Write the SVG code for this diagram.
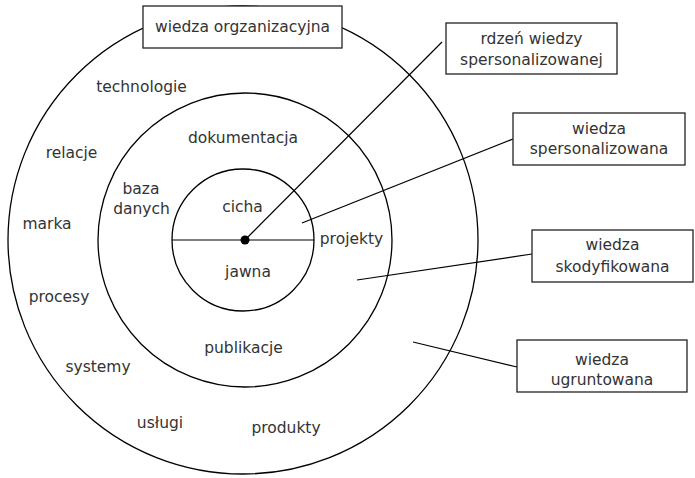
<svg xmlns="http://www.w3.org/2000/svg" width="695" height="478" viewBox="0 0 695 478">
  <style>
    .ring { fill: none; stroke: #000; stroke-width: 1.3; }
    .box { fill: #fff; stroke: #222; stroke-width: 1.3; }
    .lbl { font-family: "DejaVu Sans", Verdana, sans-serif; font-size: 15.5px; fill: #333; text-anchor: middle; }
    .link { stroke: #000; stroke-width: 1.2; fill: none; }
  </style>
  <rect width="695" height="478" fill="#fff"/>

  <!-- concentric knowledge rings -->
  <g id="ring-outer">
    <ellipse class="ring" cx="243" cy="240" rx="235" ry="234"/>
    <text class="lbl" x="141.5" y="92">technologie</text>
    <text class="lbl" x="71.5" y="158">relacje</text>
    <text class="lbl" x="47" y="229">marka</text>
    <text class="lbl" x="59" y="302">procesy</text>
    <text class="lbl" x="98" y="372">systemy</text>
    <text class="lbl" x="160" y="428">usługi</text>
    <text class="lbl" x="286" y="433">produkty</text>
  </g>
  <g id="ring-middle">
    <circle class="ring" cx="245" cy="240" r="147"/>
    <text class="lbl" x="243" y="143">dokumentacja</text>
    <text class="lbl" x="141" y="194">baza</text>
    <text class="lbl" x="141.5" y="214">danych</text>
    <text class="lbl" x="351.5" y="244">projekty</text>
    <text class="lbl" x="243.5" y="353">publikacje</text>
  </g>
  <g id="ring-inner">
    <circle class="ring" cx="243" cy="240" r="71"/>
    <text class="lbl" x="242.5" y="212">cicha</text>
    <text class="lbl" x="248" y="277">jawna</text>
  </g>

  <!-- connectors -->
  <g id="connectors">
    <line class="link" x1="172" y1="240" x2="314" y2="240"/>
    <line class="link" x1="245" y1="240" x2="442" y2="42"/>
    <line class="link" x1="302" y1="223" x2="513" y2="139"/>
    <line class="link" x1="357" y1="280" x2="532" y2="254"/>
    <line class="link" x1="413" y1="342" x2="517" y2="367"/>
    <circle cx="245" cy="240" r="4.5" fill="#000"/>
  </g>

  <!-- labels in boxes -->
  <g id="box-organizacyjna">
    <rect class="box" x="143" y="6" width="199" height="42"/>
    <text class="lbl" x="242.5" y="32">wiedza orgzanizacyjna</text>
  </g>
  <g id="box-rdzen">
    <rect class="box" x="446" y="23" width="171" height="51"/>
    <text class="lbl" x="531.5" y="44">rdzeń wiedzy</text>
    <text class="lbl" x="531.5" y="65">spersonalizowanej</text>
  </g>
  <g id="box-spersonalizowana">
    <rect class="box" x="513" y="113" width="172" height="52"/>
    <text class="lbl" x="599" y="134">wiedza</text>
    <text class="lbl" x="599" y="154">spersonalizowana</text>
  </g>
  <g id="box-skodyfikowana">
    <rect class="box" x="532" y="230" width="161" height="52"/>
    <text class="lbl" x="612.5" y="250">wiedza</text>
    <text class="lbl" x="612.5" y="272">skodyfikowana</text>
  </g>
  <g id="box-ugruntowana">
    <rect class="box" x="517" y="340" width="170" height="52"/>
    <text class="lbl" x="602" y="365">wiedza</text>
    <text class="lbl" x="602" y="385">ugruntowana</text>
  </g>
</svg>
